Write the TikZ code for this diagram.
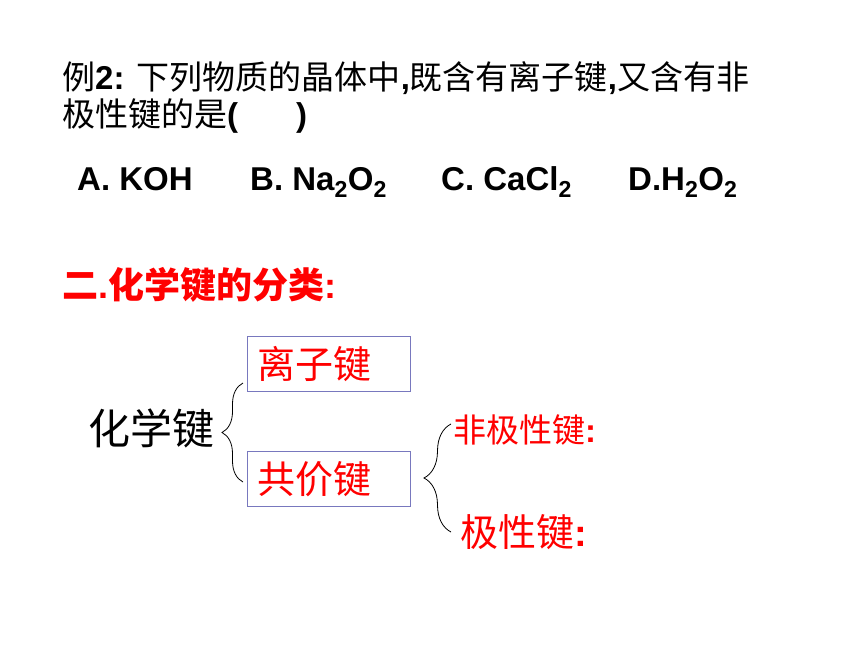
\documentclass[tikz,border=0pt]{standalone}
\usepackage{fontspec}
\setmainfont{Liberation Sans}
\newfontfamily\cjk{Noto Sans CJK SC}
\usetikzlibrary{decorations.pathreplacing}
\definecolor{boxblue}{RGB}{120,120,190}
\newcommand{\zh}[1]{{\cjk\mdseries #1}}
\newcommand{\zhb}[1]{{\cjk\bfseries #1}}
\tikzset{
  txt/.style={anchor=west,inner sep=0pt},
  opt/.style={anchor=base west,inner sep=0pt,font=\fontsize{33}{35}\selectfont\bfseries},
  qfont/.style={font=\fontsize{33}{35}\selectfont\bfseries},
  keybox/.style={draw=boxblue,line width=1.2pt,anchor=north west,minimum width=163pt,
    minimum height=55pt,text width=143pt,inner xsep=10pt,align=left,text=red,font=\fontsize{38}{40}\selectfont},
  brc/.style={decorate,decoration={brace,amplitude=#1},line width=0.8pt}
}
\begin{document}
\begin{tikzpicture}[x=1pt,y=-1pt]
        \useasboundingbox (0,0) rectangle (860,645);
        % question
        \node[txt,qfont] (q1) at (62,78){\zh{例}2: \zh{下列物质的晶体中},\zh{既含有离子键},\zh{又含有非}};
        \node[txt,qfont] (q2) at (62,116){\zh{极性键的是}(\hspace{58pt})};
        \node[opt] (optA) at (77,190){A. KOH};
        \node[opt] (optB) at (250,190){B. Na\textsubscript{2}O\textsubscript{2}};
        \node[opt] (optC) at (441,190){C. CaCl\textsubscript{2}};
        \node[opt] (optD) at (628,190){D.H\textsubscript{2}O\textsubscript{2}};
        % classification
        \node[txt,text=red,font=\fontsize{36}{38}\selectfont\bfseries] (title) at (62,285){\zhb{二}.\zhb{化学键的分类}:};
        \node[txt,font=\fontsize{42}{44}\selectfont] (bond) at (88,428){\zh{化学键}};
        \node[keybox] (ionic) at (247,336){\zh{离子键}};
        \node[keybox] (covalent) at (247,451){\zh{共价键}};
        \node[txt,text=red,font=\fontsize{33}{35}\selectfont\bfseries] (nonpolar) at (453,430){\zh{非极性键}:};
        \node[txt,text=red,font=\fontsize{38}{40}\selectfont\bfseries] (polar) at (460,532){\zh{极性键}:};
        \coordinate (b1top) at (243,383);
        \coordinate (b1bot) at (243,482);
        \coordinate (b2top) at (451,424);
        \coordinate (b2bot) at (451,532);
        \draw[brc=21pt] (b1bot) -- (b1top);
        \draw[brc=27pt] (b2bot) -- (b2top);
    \end{tikzpicture}
\end{document}
